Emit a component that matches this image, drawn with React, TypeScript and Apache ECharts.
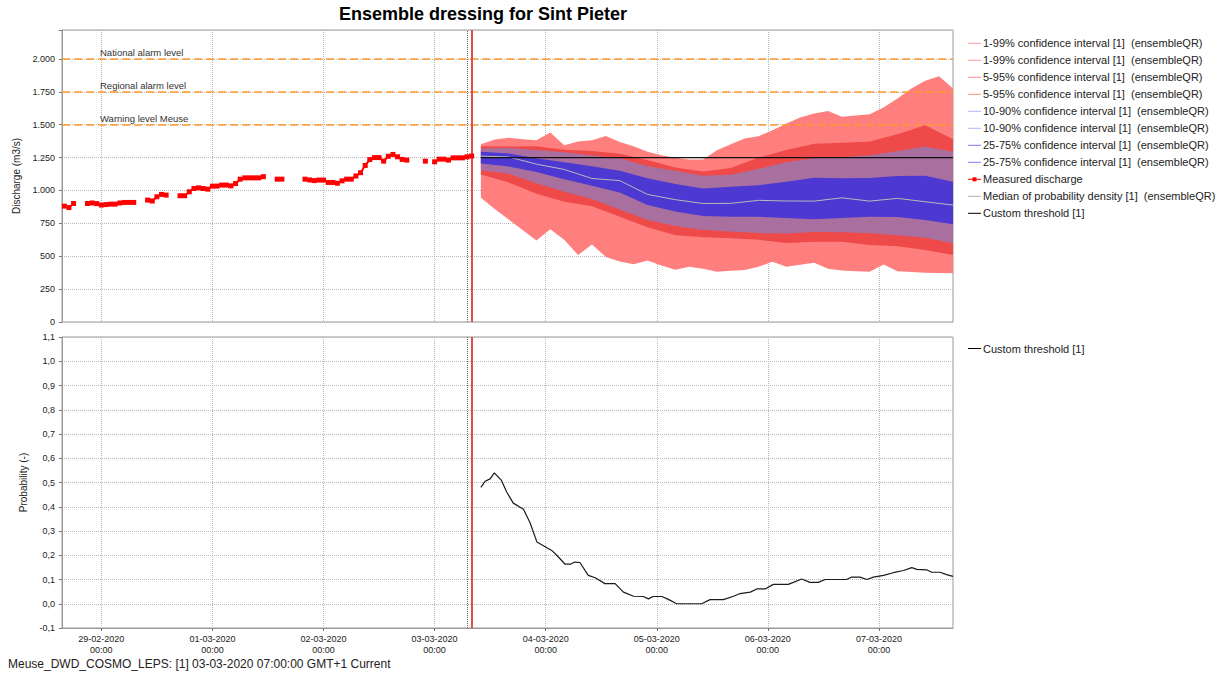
import React, { useEffect, useRef } from 'react';
import * as echarts from 'echarts';

// ---- axis ----
const xTickHours = [0, 24, 48, 72, 96, 120, 144, 168];
const xTickLabels = ['29-02-2020', '01-03-2020', '02-03-2020', '03-03-2020', '04-03-2020', '05-03-2020', '06-03-2020', '07-03-2020'];
const xMin = -8.5;
const xMax = 184;

// ---- measured discharge (hourly from 28-02 16:00, hours relative to 29-02 00:00) ----
const measuredStart = -8;
const measured = [
  881, 870, 901, null, null, 901, 905, 900, 889, 893, 896, 896, 905, 909, 909, 909, null, null, 927, 920,
  952, 970, 965, null, null, 960, 960, 990, 1015, 1020, 1015, 1010, 1033, 1033, 1041, 1041, 1035, 1053, 1086, 1096,
  1096, 1096, 1096, 1105, null, null, 1086, 1086, null, null, null, null, 1086, 1080, 1075, 1079, 1079, 1061, 1061, 1055,
  1073, 1086, 1086, 1110, 1135, 1190, 1235, 1250, 1250, 1223, 1260, 1274, 1256, 1236, 1231, null, null, null, 1223, null,
  1218, 1238, 1238, 1231, 1248, 1248, 1248, 1256, 1262,
];

// ---- ensemble quantiles ----
const hours3 = [82, 85, 88, 91, 94, 97, 100, 103, 106, 109, 112, 115, 118, 121, 124, 127, 130, 133, 136, 139, 142, 145, 148, 151, 154, 157, 160, 163, 166, 169, 172, 175, 178, 181, 184];
const p99 = [1352, 1387, 1400, 1390, 1382, 1440, 1344, 1372, 1382, 1415, 1369, 1337, 1294, 1268, 1248, 1236, 1236, 1306, 1352, 1395, 1413, 1458, 1509, 1555, 1585, 1605, 1560, 1570, 1580, 1630, 1700, 1775, 1835, 1868, 1775];
const p01 = [945, 860, 780, 700, 620, 705, 625, 510, 590, 495, 460, 440, 468, 430, 398, 420, 405, 382, 390, 395, 420, 458, 420, 435, 450, 405, 392, 385, 382, 438, 385, 380, 375, 372, 370];
const hours6 = [82, 88, 94, 100, 106, 112, 118, 124, 130, 136, 142, 148, 154, 160, 166, 172, 178, 184];
const p95 = [1337, 1335, 1337, 1310, 1300, 1280, 1232, 1175, 1145, 1170, 1250, 1308, 1355, 1362, 1372, 1428, 1496, 1390];
const p05 = [1122, 1060, 975, 915, 880, 800, 720, 660, 645, 636, 625, 600, 610, 610, 585, 575, 547, 509];
const p90 = [1320, 1322, 1308, 1290, 1265, 1245, 1185, 1150, 1112, 1120, 1165, 1215, 1245, 1255, 1265, 1300, 1335, 1295];
const p10 = [1154, 1128, 1055, 990, 935, 855, 775, 730, 700, 688, 676, 673, 684, 682, 675, 660, 640, 598];
const p75 = [1294, 1281, 1245, 1215, 1185, 1150, 1092, 1050, 1015, 1028, 1040, 1066, 1097, 1093, 1095, 1110, 1112, 1066];
const p25 = [1205, 1182, 1140, 1085, 1035, 985, 890, 840, 805, 800, 800, 790, 782, 790, 800, 798, 775, 744];
const median = [1261, 1255, 1200, 1160, 1091, 1075, 970, 930, 901, 902, 925, 920, 919, 944, 919, 940, 914, 889];

// ---- threshold ----
const thresholdValue = 1250;
const thresholdHours = [82, 184];

// ---- probability of exceeding threshold ----
const probHours = [82, 82.9, 84, 84.9, 86.4, 87.6, 89, 91.2, 92.6, 94.1, 97.3, 98.4, 100.2, 101.3, 102.3, 103.4, 105.2, 106.7, 108.8, 111, 112.8, 115, 117.1, 118.2, 119.2, 121.1, 122.5, 124.3, 129.7, 131.5, 134.4, 136.6, 138, 140.2, 141.6, 143.4, 145.2, 148.4, 149.5, 151.3, 153.1, 154.9, 156.4, 161, 162.1, 163.9, 165.4, 166.8, 169, 171.1, 173.3, 175.1, 176.2, 178.3, 179.4, 181.2, 182.6, 184];
const probValues = [0.48, 0.505, 0.515, 0.54, 0.51, 0.46, 0.415, 0.39, 0.335, 0.255, 0.22, 0.2, 0.163, 0.163, 0.172, 0.17, 0.117, 0.107, 0.083, 0.083, 0.048, 0.031, 0.03, 0.02, 0.03, 0.03, 0.018, 0, 0, 0.017, 0.017, 0.031, 0.042, 0.048, 0.061, 0.061, 0.08, 0.08, 0.088, 0.102, 0.088, 0.088, 0.1, 0.1, 0.11, 0.11, 0.1, 0.11, 0.117, 0.128, 0.137, 0.149, 0.142, 0.14, 0.13, 0.13, 0.12, 0.113];

// ---- warning levels & time markers ----
const levelValues = [2000, 1750, 1500];
const levelNames = ['National alarm level', 'Regional alarm level', 'Warning level Meuse'];
const forecastHour = 80;
const t0Hour = 79;

// ---- legend ----
const upperLegendNames = [
  '1-99% confidence interval [1]  (ensembleQR)',
  '1-99% confidence interval [1]  (ensembleQR)',
  '5-95% confidence interval [1]  (ensembleQR)',
  '5-95% confidence interval [1]  (ensembleQR)',
  '10-90% confidence interval [1]  (ensembleQR)',
  '10-90% confidence interval [1]  (ensembleQR)',
  '25-75% confidence interval [1]  (ensembleQR)',
  '25-75% confidence interval [1]  (ensembleQR)',
  'Measured discharge',
  'Median of probability density [1]  (ensembleQR)',
  'Custom threshold [1]',
];
const upperLegendColors = ['#ff9c9c', '#ff9c9c', '#ff8c8c', '#ff8c8c', '#b4b4ff', '#b4b4ff', '#7c7cff', '#7c7cff', '#ff0000', '#b0b0b0', '#000000'];
const lowerLegendNames = ['Custom threshold [1]'];

const FONT = '"Liberation Sans", Arial, sans-serif';

const bands = [
  { uh: hours3, uv: p99, lh: hours3, lv: p01, color: '#ff7f7f' },
  { uh: hours6, uv: p95, lh: hours6, lv: p05, color: '#ef4a4a' },
  { uh: hours6, uv: p90, lh: hours6, lv: p10, color: '#a86f9f' },
  { uh: hours6, uv: p75, lh: hours6, lv: p25, color: '#4d39d1' },
];

function fmtThousands(v: number) {
  if (Math.abs(v % 250) > 1e-6) return '';
  if (v >= 1000) {
    const t = Math.floor(v / 1000);
    const r = Math.round(v - t * 1000);
    return t + '.' + String(r).padStart(3, '0');
  }
  return String(v);
}

function fmtProb(v: number) {
  const x = Math.abs(v) < 1e-9 ? 0 : v;
  return x.toFixed(1).replace('.', ',');
}

function fmtX(v: number) {
  const i = xTickHours.indexOf(Math.round(v));
  return i >= 0 ? xTickLabels[i] + '\n00:00' : '';
}

export default function App() {
  const ref = useRef<HTMLDivElement>(null);
  useEffect(() => {
    if (!ref.current) return;
    const chart = echarts.init(ref.current, undefined, { renderer: 'svg' });

    const gridLine = { show: true, lineStyle: { type: 'dotted' as const, color: '#b8b8b8', width: 1 } };
    const vLines = [
      { xAxis: forecastHour, lineStyle: { color: '#e34c4c', width: 2, type: 'solid' as const } },
      { xAxis: t0Hour, lineStyle: { color: '#666', width: 1, type: 'dotted' as const } },
    ];

    const legendGraphics: any[] = [];
    const legY0 = 43.3;
    upperLegendNames.forEach((name, k) => {
      const y = legY0 + 17 * k;
      legendGraphics.push({ type: 'line', shape: { x1: 968, y1: y, x2: 981, y2: y }, style: { stroke: upperLegendColors[k], lineWidth: 1 } });
      if (name === 'Measured discharge') {
        legendGraphics.push({ type: 'rect', shape: { x: 972.5, y: y - 2, width: 4, height: 4 }, style: { fill: '#ff0000' } });
      }
      legendGraphics.push({ type: 'text', x: 983, y, style: { text: name, fill: '#222', font: '11px ' + FONT, verticalAlign: 'middle', align: 'left' } });
    });
    lowerLegendNames.forEach((name, k) => {
      const y = 348.5 + 17 * k;
      legendGraphics.push({ type: 'line', shape: { x1: 968, y1: y, x2: 981, y2: y }, style: { stroke: '#000', lineWidth: 1 } });
      legendGraphics.push({ type: 'text', x: 983, y, style: { text: name, fill: '#222', font: '11px ' + FONT, verticalAlign: 'middle', align: 'left' } });
    });

    const option: any = {
      animation: false,
      backgroundColor: '#ffffff',
      textStyle: { fontFamily: FONT },
      graphic: [
        { type: 'text', x: 483, y: 14, style: { text: 'Ensemble dressing for Sint Pieter', fill: '#000', font: 'bold 18px ' + FONT, align: 'center', verticalAlign: 'middle' } },
        { type: 'text', x: 8, y: 664, style: { text: 'Meuse_DWD_COSMO_LEPS: [1] 03-03-2020 07:00:00 GMT+1 Current', fill: '#222', font: '12px ' + FONT, align: 'left', verticalAlign: 'middle' } },
        ...legendGraphics,
      ],
      grid: [
        { left: 62, top: 30, width: 891, height: 292, show: true, borderColor: '#9a9a9a', borderWidth: 1, backgroundColor: 'transparent' },
        { left: 62, top: 337, width: 891, height: 291, show: true, borderColor: '#9a9a9a', borderWidth: 1, backgroundColor: 'transparent' },
      ],
      xAxis: [
        {
          gridIndex: 0, type: 'value', min: xMin, max: xMax,
          axisLabel: { show: false, customValues: xTickHours },
          axisTick: { show: false, customValues: xTickHours },
          axisLine: { show: false, onZero: false },
          splitLine: gridLine,
        },
        {
          gridIndex: 1, type: 'value', min: xMin, max: xMax,
          axisLabel: { customValues: xTickHours, formatter: fmtX, fontSize: 9, color: '#222', lineHeight: 11, margin: 5, fontFamily: FONT },
          axisTick: { show: true, customValues: xTickHours, length: 3, lineStyle: { color: '#777' } },
          axisLine: { show: true, onZero: false, lineStyle: { color: '#9a9a9a' } },
          splitLine: gridLine,
        },
      ],
      yAxis: [
        {
          gridIndex: 0, type: 'value', min: 0, max: 2220, interval: 250,
          name: 'Discharge (m3/s)', nameLocation: 'middle', nameGap: 34,
          nameTextStyle: { fontSize: 10, color: '#222', fontFamily: FONT },
          axisLabel: { formatter: fmtThousands, fontSize: 9, color: '#222', margin: 7, fontFamily: FONT },
          axisTick: { show: true, length: 3, lineStyle: { color: '#777' } },
          axisLine: { show: true, onZero: false, lineStyle: { color: '#9a9a9a' } },
          splitLine: gridLine,
        },
        {
          gridIndex: 1, type: 'value', min: -0.1, max: 1.1, interval: 0.1,
          name: 'Probability (-)', nameLocation: 'middle', nameGap: 34,
          nameTextStyle: { fontSize: 10, color: '#222', fontFamily: FONT },
          axisLabel: { formatter: fmtProb, fontSize: 9, color: '#222', margin: 7, fontFamily: FONT },
          axisTick: { show: true, length: 3, lineStyle: { color: '#777' } },
          axisLine: { show: true, onZero: false, lineStyle: { color: '#9a9a9a' } },
          splitLine: gridLine,
        },
      ],
      series: [
        {
          type: 'custom', xAxisIndex: 0, yAxisIndex: 0, z: 1, clip: true, silent: true,
          data: bands.map((_, i) => [thresholdHours[0], thresholdValue, i]),
          renderItem: (params: any, api: any) => {
            const b = bands[params.dataIndex];
            const pts: number[][] = [];
            b.uh.forEach((h, i) => pts.push(api.coord([h, b.uv[i]])));
            for (let i = b.lh.length - 1; i >= 0; i--) pts.push(api.coord([b.lh[i], b.lv[i]]));
            return { type: 'polygon', shape: { points: pts }, style: { fill: b.color, stroke: 'none' } };
          },
        },
        {
          type: 'line', xAxisIndex: 0, yAxisIndex: 0, z: 3, silent: true,
          data: hours6.map((h, i) => [h, median[i]]),
          symbol: 'none', lineStyle: { color: '#b9b9b9', width: 1 },
        },
        {
          type: 'line', xAxisIndex: 0, yAxisIndex: 0, z: 4, silent: true,
          data: thresholdHours.map((h) => [h, thresholdValue]),
          symbol: 'none', lineStyle: { color: '#111', width: 1.2 },
        },
        {
          type: 'line', xAxisIndex: 0, yAxisIndex: 0, z: 5, silent: true,
          data: measured.map((v, i) => [measuredStart + i, v]),
          connectNulls: false, showSymbol: true, showAllSymbol: true,
          symbol: 'rect', symbolSize: 5,
          itemStyle: { color: '#ff0000' }, lineStyle: { color: '#ff0000', width: 2 },
          markLine: {
            silent: true, symbol: ['none', 'none'], animation: false,
            data: [
              ...levelValues.map((v, i) => ({
                yAxis: v, name: levelNames[i],
                lineStyle: { color: '#ff9a2e', width: 1.5, type: [8, 4] },
                label: { show: true, formatter: '{b}', position: 'insideStartTop', distance: [38, 1], color: '#333', fontSize: 9.5, fontFamily: FONT },
              })),
              ...vLines.map((l) => ({ ...l, label: { show: false } })),
            ],
          },
        },
        {
          type: 'line', xAxisIndex: 1, yAxisIndex: 1, z: 5, silent: true,
          data: probHours.map((h, i) => [h, probValues[i]]),
          symbol: 'none', lineStyle: { color: '#1a1a1a', width: 1.2 },
          markLine: {
            silent: true, symbol: ['none', 'none'], animation: false,
            data: vLines.map((l) => ({ ...l, label: { show: false } })),
          },
        },
      ],
    };
    chart.setOption(option);
    return () => chart.dispose();
  }, []);
  return <div ref={ref} style={{ position: 'absolute', left: 0, top: 0, width: 1221, height: 677, background: '#fff' }} />;
}
